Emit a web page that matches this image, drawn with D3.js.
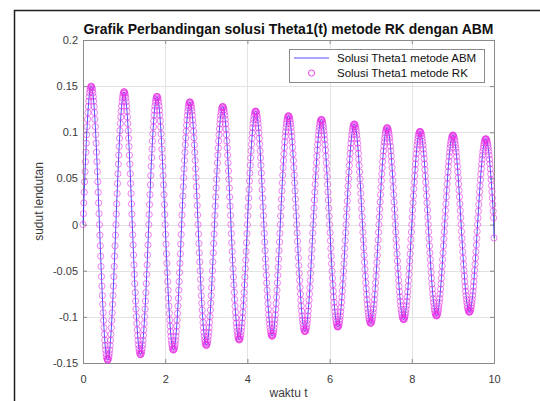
<!DOCTYPE html>
<html>
<head>
<meta charset="utf-8">
<script src="https://cdn.jsdelivr.net/npm/d3@7"></script>
<style>
body { margin: 0; background: #fff; }
svg { display: block; font-family: "Liberation Sans", Arial, sans-serif; }
</style>
</head>
<body>
<svg id="chart" width="540" height="401"></svg>
<script>
// step size of the solver (t = 0 .. 10)
var h = 0.01;

var xTicks = [0, 2, 4, 6, 8, 10];
var yTicks = [-0.15, -0.1, -0.05, 0, 0.05, 0.1, 0.15, 0.2];
var seriesNames = ['Solusi Theta1 metode ABM', 'Solusi Theta1 metode RK'];

// theta1(t), one row per half swing (0.4 s)
var theta1RK = [
  0, 0.0118, 0.0235, 0.0350, 0.0464, 0.0574, 0.0681, 0.0784, 0.0882, 0.0974, 0.1061, 0.1141, 0.1214, 0.1279, 0.1337, 0.1386, 0.1427, 0.1459, 0.1482, 0.1495, 0.150, 0.1495, 0.1482, 0.1459, 0.1427, 0.1386, 0.1337, 0.1279, 0.1214, 0.1141, 0.1061, 0.0974, 0.0882, 0.0784, 0.0681, 0.0574, 0.0464, 0.0350, 0.0235, 0.0118,
  0, -0.0115, -0.0230, -0.0343, -0.0454, -0.0563, -0.0667, -0.0768, -0.0864, -0.0955, -0.1039, -0.1118, -0.1189, -0.1253, -0.1310, -0.1358, -0.1398, -0.1429, -0.1452, -0.1465, -0.147, -0.1465, -0.1452, -0.1429, -0.1398, -0.1358, -0.1310, -0.1253, -0.1189, -0.1118, -0.1039, -0.0955, -0.0864, -0.0768, -0.0667, -0.0563, -0.0454, -0.0343, -0.0230, -0.0115,
  0, 0.0113, 0.0225, 0.0336, 0.0445, 0.0551, 0.0654, 0.0752, 0.0846, 0.0935, 0.1018, 0.1095, 0.1165, 0.1228, 0.1283, 0.1330, 0.1370, 0.1400, 0.1422, 0.1436, 0.144, 0.1436, 0.1422, 0.1400, 0.1370, 0.1330, 0.1283, 0.1228, 0.1165, 0.1095, 0.1018, 0.0935, 0.0846, 0.0752, 0.0654, 0.0551, 0.0445, 0.0336, 0.0225, 0.0113,
  0, -0.0111, -0.0221, -0.0329, -0.0436, -0.0540, -0.0640, -0.0737, -0.0829, -0.0916, -0.0997, -0.1072, -0.1141, -0.1202, -0.1256, -0.1303, -0.1341, -0.1371, -0.1393, -0.1406, -0.141, -0.1406, -0.1393, -0.1371, -0.1341, -0.1303, -0.1256, -0.1202, -0.1141, -0.1072, -0.0997, -0.0916, -0.0829, -0.0737, -0.0640, -0.0540, -0.0436, -0.0329, -0.0221, -0.0111,
  0, 0.0109, 0.0217, 0.0324, 0.0430, 0.0532, 0.0631, 0.0726, 0.0817, 0.0903, 0.0983, 0.1057, 0.1125, 0.1185, 0.1238, 0.1284, 0.1322, 0.1352, 0.1373, 0.1386, 0.139, 0.1386, 0.1373, 0.1352, 0.1322, 0.1284, 0.1238, 0.1185, 0.1125, 0.1057, 0.0983, 0.0903, 0.0817, 0.0726, 0.0631, 0.0532, 0.0430, 0.0324, 0.0217, 0.0109,
  0, -0.0107, -0.0213, -0.0317, -0.0420, -0.0520, -0.0617, -0.0711, -0.0799, -0.0883, -0.0962, -0.1034, -0.1100, -0.1160, -0.1212, -0.1257, -0.1293, -0.1322, -0.1343, -0.1356, -0.136, -0.1356, -0.1343, -0.1322, -0.1293, -0.1257, -0.1212, -0.1160, -0.1100, -0.1034, -0.0962, -0.0883, -0.0799, -0.0711, -0.0617, -0.0520, -0.0420, -0.0317, -0.0213, -0.0107,
  0, 0.0104, 0.0208, 0.0310, 0.0411, 0.0509, 0.0604, 0.0695, 0.0782, 0.0864, 0.0940, 0.1011, 0.1076, 0.1134, 0.1185, 0.1229, 0.1265, 0.1293, 0.1314, 0.1326, 0.133, 0.1326, 0.1314, 0.1293, 0.1265, 0.1229, 0.1185, 0.1134, 0.1076, 0.1011, 0.0940, 0.0864, 0.0782, 0.0695, 0.0604, 0.0509, 0.0411, 0.0310, 0.0208, 0.0104,
  0, -0.0103, -0.0205, -0.0306, -0.0405, -0.0501, -0.0595, -0.0684, -0.0770, -0.0851, -0.0926, -0.0996, -0.1060, -0.1117, -0.1167, -0.1210, -0.1246, -0.1274, -0.1294, -0.1306, -0.131, -0.1306, -0.1294, -0.1274, -0.1246, -0.1210, -0.1167, -0.1117, -0.1060, -0.0996, -0.0926, -0.0851, -0.0770, -0.0684, -0.0595, -0.0501, -0.0405, -0.0306, -0.0205, -0.0103,
  0, 0.0100, 0.0200, 0.0299, 0.0396, 0.0490, 0.0581, 0.0669, 0.0752, 0.0831, 0.0905, 0.0973, 0.1036, 0.1091, 0.1140, 0.1183, 0.1217, 0.1245, 0.1264, 0.1276, 0.128, 0.1276, 0.1264, 0.1245, 0.1217, 0.1183, 0.1140, 0.1091, 0.1036, 0.0973, 0.0905, 0.0831, 0.0752, 0.0669, 0.0581, 0.0490, 0.0396, 0.0299, 0.0200, 0.0100,
  0, -0.0098, -0.0196, -0.0292, -0.0386, -0.0478, -0.0568, -0.0653, -0.0735, -0.0812, -0.0884, -0.0951, -0.1011, -0.1066, -0.1114, -0.1155, -0.1189, -0.1216, -0.1235, -0.1246, -0.125, -0.1246, -0.1235, -0.1216, -0.1189, -0.1155, -0.1114, -0.1066, -0.1011, -0.0951, -0.0884, -0.0812, -0.0735, -0.0653, -0.0568, -0.0478, -0.0386, -0.0292, -0.0196, -0.0098,
  0, 0.0097, 0.0192, 0.0287, 0.0380, 0.0471, 0.0558, 0.0643, 0.0723, 0.0799, 0.0870, 0.0935, 0.0995, 0.1049, 0.1096, 0.1136, 0.1170, 0.1196, 0.1215, 0.1226, 0.123, 0.1226, 0.1215, 0.1196, 0.1170, 0.1136, 0.1096, 0.1049, 0.0995, 0.0935, 0.0870, 0.0799, 0.0723, 0.0643, 0.0558, 0.0471, 0.0380, 0.0287, 0.0192, 0.0097,
  0, -0.0095, -0.0189, -0.0282, -0.0374, -0.0463, -0.0549, -0.0632, -0.0711, -0.0786, -0.0856, -0.0920, -0.0979, -0.1032, -0.1078, -0.1118, -0.1151, -0.1177, -0.1195, -0.1206, -0.121, -0.1206, -0.1195, -0.1177, -0.1151, -0.1118, -0.1078, -0.1032, -0.0979, -0.0920, -0.0856, -0.0786, -0.0711, -0.0632, -0.0549, -0.0463, -0.0374, -0.0282, -0.0189, -0.0095,
  0, 0.0093, 0.0185, 0.0275, 0.0365, 0.0452, 0.0536, 0.0617, 0.0694, 0.0766, 0.0834, 0.0897, 0.0955, 0.1006, 0.1051, 0.1090, 0.1122, 0.1147, 0.1165, 0.1176, 0.118, 0.1176, 0.1165, 0.1147, 0.1122, 0.1090, 0.1051, 0.1006, 0.0955, 0.0897, 0.0834, 0.0766, 0.0694, 0.0617, 0.0536, 0.0452, 0.0365, 0.0275, 0.0185, 0.0093,
  0, -0.0091, -0.0181, -0.0271, -0.0358, -0.0444, -0.0527, -0.0606, -0.0682, -0.0753, -0.0820, -0.0882, -0.0938, -0.0989, -0.1034, -0.1072, -0.1103, -0.1128, -0.1146, -0.1156, -0.116, -0.1156, -0.1146, -0.1128, -0.1103, -0.1072, -0.1034, -0.0989, -0.0938, -0.0882, -0.0820, -0.0753, -0.0682, -0.0606, -0.0527, -0.0444, -0.0358, -0.0271, -0.0181, -0.0091,
  0, 0.0089, 0.0178, 0.0266, 0.0352, 0.0436, 0.0518, 0.0596, 0.0670, 0.0740, 0.0806, 0.0867, 0.0922, 0.0972, 0.1016, 0.1053, 0.1084, 0.1109, 0.1126, 0.1136, 0.114, 0.1136, 0.1126, 0.1109, 0.1084, 0.1053, 0.1016, 0.0972, 0.0922, 0.0867, 0.0806, 0.0740, 0.0670, 0.0596, 0.0518, 0.0436, 0.0352, 0.0266, 0.0178, 0.0089,
  0, -0.0087, -0.0174, -0.0259, -0.0343, -0.0425, -0.0504, -0.0580, -0.0652, -0.0721, -0.0785, -0.0844, -0.0898, -0.0946, -0.0989, -0.1026, -0.1056, -0.1079, -0.1096, -0.1107, -0.111, -0.1107, -0.1096, -0.1079, -0.1056, -0.1026, -0.0989, -0.0946, -0.0898, -0.0844, -0.0785, -0.0721, -0.0652, -0.0580, -0.0504, -0.0425, -0.0343, -0.0259, -0.0174, -0.0087,
  0, 0.0086, 0.0170, 0.0254, 0.0337, 0.0417, 0.0495, 0.0570, 0.0641, 0.0708, 0.0771, 0.0829, 0.0882, 0.0929, 0.0971, 0.1007, 0.1037, 0.1060, 0.1077, 0.1087, 0.109, 0.1087, 0.1077, 0.1060, 0.1037, 0.1007, 0.0971, 0.0929, 0.0882, 0.0829, 0.0771, 0.0708, 0.0641, 0.0570, 0.0495, 0.0417, 0.0337, 0.0254, 0.0170, 0.0086,
  0, -0.0084, -0.0167, -0.0250, -0.0331, -0.0409, -0.0486, -0.0559, -0.0629, -0.0695, -0.0757, -0.0814, -0.0866, -0.0912, -0.0953, -0.0989, -0.1018, -0.1040, -0.1057, -0.1067, -0.107, -0.1067, -0.1057, -0.1040, -0.1018, -0.0989, -0.0953, -0.0912, -0.0866, -0.0814, -0.0757, -0.0695, -0.0629, -0.0559, -0.0486, -0.0409, -0.0331, -0.0250, -0.0167, -0.0084,
  0, 0.0082, 0.0164, 0.0245, 0.0324, 0.0402, 0.0477, 0.0549, 0.0617, 0.0682, 0.0742, 0.0798, 0.0849, 0.0895, 0.0936, 0.0970, 0.0999, 0.1021, 0.1037, 0.1047, 0.105, 0.1047, 0.1037, 0.1021, 0.0999, 0.0970, 0.0936, 0.0895, 0.0849, 0.0798, 0.0742, 0.0682, 0.0617, 0.0549, 0.0477, 0.0402, 0.0324, 0.0245, 0.0164, 0.0082,
  0, -0.0081, -0.0161, -0.0240, -0.0318, -0.0394, -0.0468, -0.0538, -0.0605, -0.0669, -0.0728, -0.0783, -0.0833, -0.0878, -0.0918, -0.0952, -0.0980, -0.1002, -0.1017, -0.1027, -0.103, -0.1027, -0.1017, -0.1002, -0.0980, -0.0952, -0.0918, -0.0878, -0.0833, -0.0783, -0.0728, -0.0669, -0.0605, -0.0538, -0.0468, -0.0394, -0.0318, -0.0240, -0.0161, -0.0081,
  0, 0.0079, 0.0158, 0.0236, 0.0312, 0.0387, 0.0459, 0.0528, 0.0594, 0.0656, 0.0714, 0.0768, 0.0817, 0.0861, 0.0900, 0.0933, 0.0961, 0.0982, 0.0998, 0.1007, 0.101, 0.1007, 0.0998, 0.0982, 0.0961, 0.0933, 0.0900, 0.0861, 0.0817, 0.0768, 0.0714, 0.0656, 0.0594, 0.0528, 0.0459, 0.0387, 0.0312, 0.0236, 0.0158, 0.0079,
  0, -0.0078, -0.0155, -0.0231, -0.0306, -0.0379, -0.0449, -0.0517, -0.0582, -0.0643, -0.0700, -0.0753, -0.0801, -0.0844, -0.0882, -0.0915, -0.0942, -0.0963, -0.0978, -0.0987, -0.099, -0.0987, -0.0978, -0.0963, -0.0942, -0.0915, -0.0882, -0.0844, -0.0801, -0.0753, -0.0700, -0.0643, -0.0582, -0.0517, -0.0449, -0.0379, -0.0306, -0.0231, -0.0155, -0.0078,
  0, 0.0076, 0.0152, 0.0226, 0.0300, 0.0371, 0.0440, 0.0507, 0.0570, 0.0630, 0.0686, 0.0738, 0.0785, 0.0827, 0.0864, 0.0896, 0.0923, 0.0943, 0.0958, 0.0967, 0.097, 0.0967, 0.0958, 0.0943, 0.0923, 0.0896, 0.0864, 0.0827, 0.0785, 0.0738, 0.0686, 0.0630, 0.0570, 0.0507, 0.0440, 0.0371, 0.0300, 0.0226, 0.0152, 0.0076,
  0, -0.0075, -0.0149, -0.0222, -0.0294, -0.0364, -0.0431, -0.0496, -0.0558, -0.0617, -0.0672, -0.0722, -0.0769, -0.0810, -0.0846, -0.0878, -0.0904, -0.0924, -0.0938, -0.0947, -0.095, -0.0947, -0.0938, -0.0924, -0.0904, -0.0878, -0.0846, -0.0810, -0.0769, -0.0722, -0.0672, -0.0617, -0.0558, -0.0496, -0.0431, -0.0364, -0.0294, -0.0222, -0.0149, -0.0075,
  0, 0.0073, 0.0145, 0.0217, 0.0287, 0.0356, 0.0422, 0.0486, 0.0547, 0.0604, 0.0658, 0.0707, 0.0752, 0.0793, 0.0829, 0.0859, 0.0885, 0.0904, 0.0919, 0.0927, 0.093, 0.0927, 0.0919, 0.0904, 0.0885, 0.0859, 0.0829, 0.0793, 0.0752, 0.0707, 0.0658, 0.0604, 0.0547, 0.0486, 0.0422, 0.0356, 0.0287, 0.0217, 0.0145, 0.0073,
  -0.0145
];
// the two methods lie on top of each other at this scale
var theta1ABM = theta1RK.slice();

var svg = d3.select('#chart');

var x = d3.scaleLinear().domain([0, 10]).range([83, 494]);
var y = d3.scaleLinear().domain([-0.15, 0.2]).range([363, 40]);

var axisColor = '#8a8a8a';
var textColor = '#3a3a3a';

// outer figure frame (cut off at right / bottom)
svg.append('path')
    .attr('d', 'M14.5,401 V10.5 H540')
    .attr('fill', 'none')
    .attr('stroke', '#1e1e1e')
    .attr('stroke-width', 1.5);

// grid
svg.append('g').selectAll('line.gx')
    .data(xTicks.slice(1, -1))
    .enter().append('line')
    .attr('x1', function(d) { return Math.round(x(d)) + 0.5; })
    .attr('x2', function(d) { return Math.round(x(d)) + 0.5; })
    .attr('y1', y(0.2)).attr('y2', y(-0.15))
    .attr('stroke', '#e3e3e3');

svg.append('g').selectAll('line.gy')
    .data(yTicks.slice(1, -1))
    .enter().append('line')
    .attr('y1', function(d) { return Math.round(y(d)) + 0.5; })
    .attr('y2', function(d) { return Math.round(y(d)) + 0.5; })
    .attr('x1', x(0)).attr('x2', x(10))
    .attr('stroke', '#e3e3e3');

// axes
var fmt = function(d) { return String(d); };

var gx = svg.append('g')
    .attr('transform', 'translate(0,' + y(-0.15) + ')')
    .call(d3.axisBottom(x).tickValues(xTicks).tickFormat(fmt).tickSize(-4).tickPadding(12));
var gxTop = svg.append('g')
    .attr('transform', 'translate(0,' + y(0.2) + ')')
    .call(d3.axisTop(x).tickValues(xTicks).tickFormat('').tickSize(-4));
var gy = svg.append('g')
    .attr('transform', 'translate(' + x(0) + ',0)')
    .call(d3.axisLeft(y).tickValues(yTicks).tickFormat(fmt).tickSize(-4).tickPadding(5));
var gyRight = svg.append('g')
    .attr('transform', 'translate(' + x(10) + ',0)')
    .call(d3.axisRight(y).tickValues(yTicks).tickFormat('').tickSize(-4));

[gx, gxTop, gy, gyRight].forEach(function(g) {
    g.selectAll('.domain').attr('stroke', axisColor);
    g.selectAll('.tick line').attr('stroke', axisColor);
    g.selectAll('text')
        .attr('fill', textColor)
        .style('font-size', '11px')
        .style('font-family', '"Liberation Sans", Arial, sans-serif');
});

// data
var line = d3.line()
    .x(function(d, i) { return x(i * h); })
    .y(function(d) { return y(d); });

svg.append('path')
    .datum(theta1ABM)
    .attr('d', line)
    .attr('fill', 'none')
    .attr('stroke', '#0000ff')
    .attr('stroke-width', 0.7);

svg.append('g').selectAll('circle')
    .data(theta1RK)
    .enter().append('circle')
    .attr('cx', function(d, i) { return x(i * h); })
    .attr('cy', function(d) { return y(d); })
    .attr('r', 3.1)
    .attr('fill', 'none')
    .attr('stroke', '#e62ee6')
    .attr('stroke-opacity', 0.75)
    .attr('stroke-width', 0.8);

// title + labels
var title = svg.append('text')
    .attr('x', (x(0) + x(10)) / 2)
    .attr('y', 34)
    .attr('text-anchor', 'middle')
    .attr('fill', '#111')
    .style('font-weight', 'bold')
    .style('font-size', '13px')
    .text('Grafik Perbandingan solusi Theta1(t) metode RK dengan ABM');
var tw = title.node().getComputedTextLength();
title.style('font-size', (13 * 410 / tw) + 'px');

svg.append('text')
    .attr('x', (x(0) + x(10)) / 2)
    .attr('y', 397)
    .attr('text-anchor', 'middle')
    .attr('fill', textColor)
    .style('font-size', '12px')
    .text('waktu t');

svg.append('text')
    .attr('transform', 'translate(43,' + (y(0.2) + y(-0.15)) / 2 + ') rotate(-90)')
    .attr('text-anchor', 'middle')
    .attr('fill', textColor)
    .style('font-size', '12px')
    .text('sudut lendutan');

// legend
var lg = svg.append('g');
lg.append('rect')
    .attr('x', 289.5).attr('y', 49.5)
    .attr('width', 195).attr('height', 33)
    .attr('fill', '#fff')
    .attr('stroke', axisColor);

lg.append('line')
    .attr('x1', 294).attr('x2', 329)
    .attr('y1', 58).attr('y2', 58)
    .attr('stroke', '#0000ff')
    .attr('stroke-width', 0.7);

lg.append('circle')
    .attr('cx', 311.5).attr('cy', 73)
    .attr('r', 3.1)
    .attr('fill', 'none')
    .attr('stroke', '#e62ee6')
    .attr('stroke-width', 0.9);

lg.selectAll('text.lbl')
    .data(seriesNames)
    .enter().append('text')
    .attr('x', 337)
    .attr('y', function(d, i) { return 62 + i * 15; })
    .attr('fill', '#111')
    .style('font-size', '11.5px')
    .text(function(d) { return d; });
</script>
</body>
</html>
